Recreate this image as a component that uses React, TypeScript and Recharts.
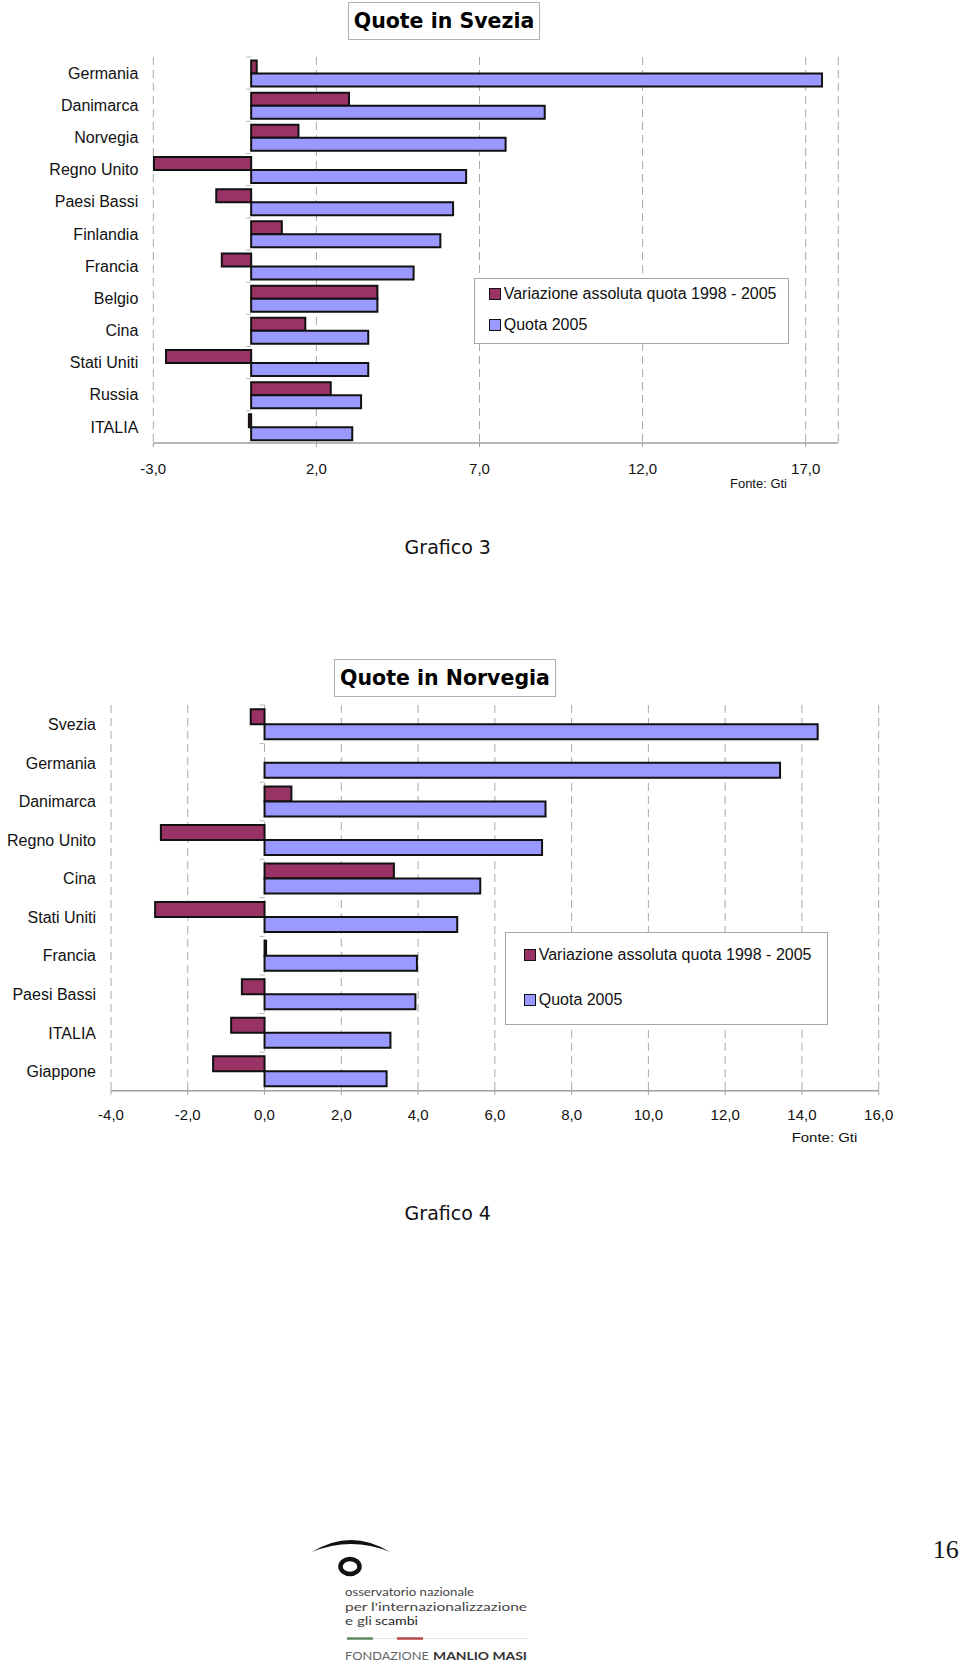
import React from 'react';
import { BarChart, Bar, XAxis, YAxis, CartesianGrid, Legend, ReferenceLine } from 'recharts';

// Grafico 3 - Quote in Svezia
const svCountries = ['Germania', 'Danimarca', 'Norvegia', 'Regno Unito', 'Paesi Bassi', 'Finlandia', 'Francia', 'Belgio', 'Cina', 'Stati Uniti', 'Russia', 'ITALIA'];
const svVariazione = [0.17, 3.0, 1.45, -2.98, -1.07, 0.94, -0.9, 3.87, 1.66, -2.61, 2.44, -0.07];
const svQuota = [17.5, 9.0, 7.8, 6.59, 6.19, 5.8, 4.98, 3.87, 3.59, 3.59, 3.37, 3.1];
const svTicks = [-3, 2, 7, 12, 17];

// Grafico 4 - Quote in Norvegia
const noCountries = ['Svezia', 'Germania', 'Danimarca', 'Regno Unito', 'Cina', 'Stati Uniti', 'Francia', 'Paesi Bassi', 'ITALIA', 'Giappone'];
const noVariazione = [-0.36, 0, 0.7, -2.7, 3.37, -2.85, 0.04, -0.59, -0.87, -1.34];
const noQuota = [14.41, 13.43, 7.32, 7.23, 5.62, 5.02, 3.97, 3.93, 3.28, 3.18];
const noTicks = [-4, -2, 0, 2, 4, 6, 8, 10, 12, 14, 16];

const LABEL_VAR = 'Variazione assoluta quota 1998 - 2005';
const LABEL_QUOTA = 'Quota 2005';
const LEGEND_ORDER = [LABEL_VAR, LABEL_QUOTA];

const FONT = '"Liberation Sans", Arial, sans-serif';
const MAROON = '#993366';
const BLUE = '#9999ff';
const GRID = '#a8a8a8';

const fmt = (v: number) => v.toFixed(1).replace('.', ',');

const zeroTicks = (n: number) => (props: any) => {
  const { x1, y1, y2 } = props;
  if (![x1, y1, y2].every((v) => Number.isFinite(v))) return <g />;
  const top = Math.min(y1, y2);
  const step = Math.abs(y2 - y1) / n;
  return (
    <g>
      {Array.from({ length: n + 1 }, (_, i) => (
        <line key={i} x1={x1 - 5} x2={x1} y1={top + i * step} y2={top + i * step} stroke="#b8b8b8" strokeWidth={1} />
      ))}
    </g>
  );
};

const makeLegend = (box: any) => (props: any) => {
  const items = [...(props.payload || [])].sort(
    (a: any, b: any) => LEGEND_ORDER.indexOf(a.value) - LEGEND_ORDER.indexOf(b.value)
  );
  return (
    <div
      style={{
        boxSizing: 'border-box',
        width: box.width,
        height: box.height,
        border: '1px solid #a6a6a6',
        background: '#fff',
        position: 'relative',
        fontFamily: FONT,
        fontSize: 16,
        color: '#111',
      }}
    >
      {items.map((entry: any, i: number) => (
        <div
          key={i}
          style={{
            position: 'absolute',
            left: box.padLeft,
            top: box.firstRow + i * box.rowGap - 10,
            height: 20,
            display: 'flex',
            alignItems: 'center',
            whiteSpace: 'nowrap',
          }}
        >
          <span
            style={{
              display: 'inline-block',
              width: 12,
              height: 12,
              boxSizing: 'border-box',
              background: entry.color,
              border: '1.5px solid #111',
              marginRight: 3,
            }}
          />
          <span>{entry.value}</span>
        </div>
      ))}
    </div>
  );
};

function QuoteChart(p: any) {
  const data = p.countries.map((c: string, i: number) => ({
    country: c,
    variazione: p.variazione[i],
    quota: p.quota[i],
  }));
  return (
    <BarChart
      width={960}
      height={500}
      data={data}
      layout="vertical"
      margin={p.margin}
      barCategoryGap="11%"
      barGap={0}
    >
      <CartesianGrid horizontal={false} stroke={GRID} strokeDasharray="8 5" />
      <XAxis
        type="number"
        domain={p.domain}
        ticks={p.ticks}
        interval={0}
        tickFormatter={fmt}
        height={40}
        axisLine={{ stroke: '#a0a0a0', strokeWidth: 1.5 }}
        tickLine={{ stroke: '#a0a0a0' }}
        tickSize={4}
        tickMargin={p.xTickMargin}
        tick={{ fontFamily: FONT, fontSize: 15, fill: '#111' }}
      />
      <YAxis
        type="category"
        dataKey="country"
        width={p.yWidth}
        interval={0}
        axisLine={false}
        tickLine={false}
        tickMargin={9}
        tick={{ fontFamily: FONT, fontSize: 16, fill: '#111' }}
      />
      <ReferenceLine x={0} stroke="none" shape={zeroTicks(p.countries.length)} />
      <Legend
        layout="vertical"
        align="center"
        verticalAlign="middle"
        content={makeLegend(p.legendBox)}
        wrapperStyle={{ left: p.legendBox.left, top: p.legendBox.top, width: p.legendBox.width, height: p.legendBox.height }}
      />
      <Bar dataKey="variazione" name={LABEL_VAR} fill={MAROON} stroke="#111" strokeWidth={2} isAnimationActive={false} />
      <Bar dataKey="quota" name={LABEL_QUOTA} fill={BLUE} stroke="#111" strokeWidth={2} isAnimationActive={false} />
    </BarChart>
  );
}

const titleStyle = (left: number, top: number, width: number): React.CSSProperties => ({
  position: 'absolute',
  left,
  top,
  width,
  height: 38,
  boxSizing: 'border-box',
  border: '1px solid #b0b0b0',
  background: '#fff',
  fontFamily: '"DejaVu Sans", Verdana, sans-serif',
  fontWeight: 'bold',
  fontSize: 20.5,
  lineHeight: '36px',
  textAlign: 'center',
  color: '#000',
  whiteSpace: 'nowrap',
});

const LOGO_FONT = 'Lato, "Open Sans", sans-serif';

export default function App() {
  return (
    <div style={{ position: 'absolute', left: 0, top: 0, width: 960, height: 1671, background: '#fff' }}>
      <div style={{ position: 'absolute', left: 0, top: 0 }}>
        <QuoteChart
          countries={svCountries}
          variazione={svVariazione}
          quota={svQuota}
          ticks={svTicks}
          domain={[-3, 18]}
          margin={{ top: 57, right: 121.7, left: 0, bottom: 17 }}
          yWidth={153.3}
          xTickMargin={16}
          legendBox={{ left: 473.7, top: 277.7, width: 315.6, height: 66.3, padLeft: 14, firstRow: 15.3, rowGap: 31 }}
        />
      </div>
      <div style={titleStyle(347.7, 2, 192.6)}>Quote in Svezia</div>

      <div style={{ position: 'absolute', left: 0, top: 650 }}>
        <QuoteChart
          countries={noCountries}
          variazione={noVariazione}
          quota={noQuota}
          ticks={noTicks}
          domain={[-4, 16]}
          margin={{ top: 55, right: 81.3, left: 0, bottom: 19.3 }}
          yWidth={111}
          xTickMargin={15}
          legendBox={{ left: 505.3, top: 282.3, width: 322.4, height: 92.7, padLeft: 17.4, firstRow: 22, rowGap: 45 }}
        />
      </div>
      <div style={titleStyle(334.3, 659.3, 221.4)}>Quote in Norvegia</div>

      <svg width={960} height={1671} style={{ position: 'absolute', left: 0, top: 0, pointerEvents: 'none' }}>
        <text x={730} y={487.6} fontFamily={FONT} fontSize={12} fill="#111" textLength={57} lengthAdjust="spacingAndGlyphs">Fonte: Gti</text>
        <text x={791.7} y={1141.8} fontFamily={FONT} fontSize={13} fill="#111" textLength={65.6} lengthAdjust="spacingAndGlyphs">Fonte: Gti</text>

        <text x={447.8} y={554} textAnchor="middle" fontFamily='"DejaVu Sans", Verdana, sans-serif' fontSize={19} fill="#111">Grafico 3</text>
        <text x={447.8} y={1220} textAnchor="middle" fontFamily='"DejaVu Sans", Verdana, sans-serif' fontSize={19} fill="#111">Grafico 4</text>

        <text x={932.7} y={1558.3} fontFamily='"Liberation Serif", "Times New Roman", serif' fontSize={26} fill="#111">16</text>

        {/* logo */}
        <path d="M312,1552 Q351,1528 390,1552 Q351,1536 312,1552 Z" fill="#111" />
        <ellipse cx={350} cy={1566.5} rx={9.5} ry={7.5} fill="none" stroke="#111" strokeWidth={4.5} />
        <text x={345} y={1596} fontFamily={LOGO_FONT} fontSize={11.5} fill="#444" textLength={129} lengthAdjust="spacingAndGlyphs">osservatorio nazionale</text>
        <text x={345} y={1610.5} fontFamily={LOGO_FONT} fontSize={11.5} fill="#444" textLength={182} lengthAdjust="spacingAndGlyphs">per l'internazionalizzazione</text>
        <text x={345} y={1625} fontFamily={LOGO_FONT} fontSize={11.5} fill="#444" textLength={27} lengthAdjust="spacingAndGlyphs">e gli</text>
        <text x={375} y={1625} fontFamily={LOGO_FONT} fontSize={11.5} fill="#222" textLength={43} lengthAdjust="spacingAndGlyphs">scambi</text>
        <line x1={347} x2={527} y1={1638.5} y2={1638.5} stroke="#e2e2e2" strokeWidth={1} />
        <line x1={347} x2={373} y1={1638.5} y2={1638.5} stroke="#5d8a62" strokeWidth={2.5} />
        <line x1={397} x2={423} y1={1638.5} y2={1638.5} stroke="#b5484e" strokeWidth={2.5} />
        <text x={345} y={1660} fontFamily={LOGO_FONT} fontSize={10.5} fill="#666" textLength={84} lengthAdjust="spacingAndGlyphs">FONDAZIONE</text>
        <text x={433} y={1660} fontFamily={LOGO_FONT} fontSize={10.5} fill="#333" fontWeight={700} textLength={94} lengthAdjust="spacingAndGlyphs">MANLIO MASI</text>
      </svg>
    </div>
  );
}
